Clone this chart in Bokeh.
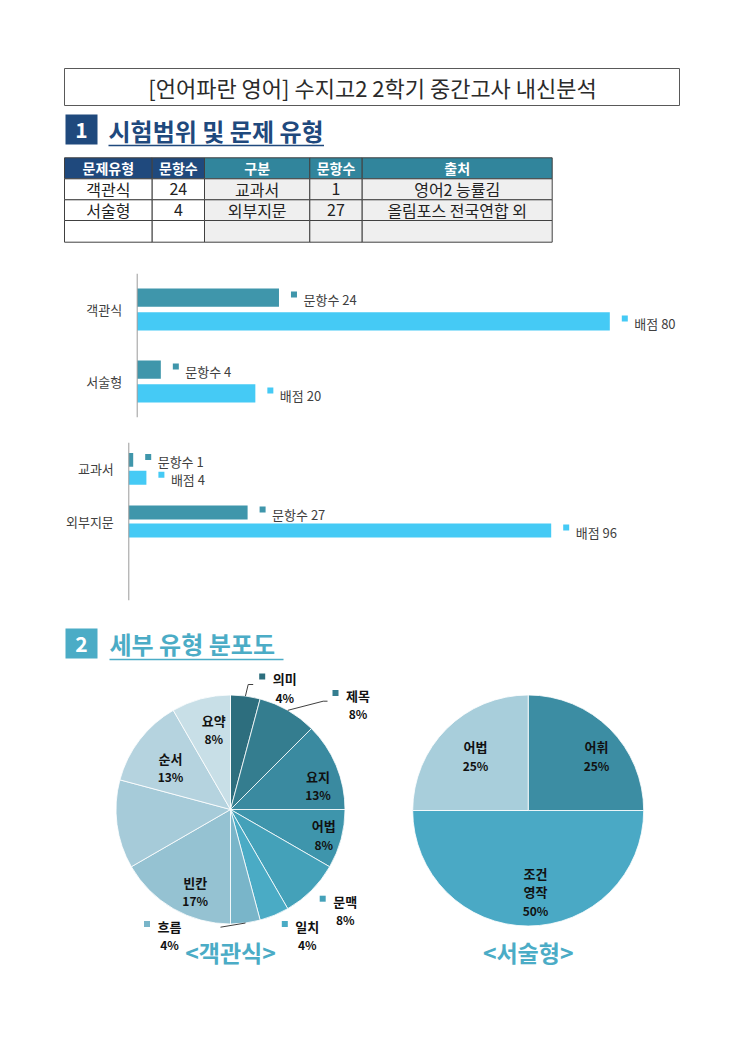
import math
from bokeh.plotting import figure
from bokeh.layouts import column
from bokeh.models import Range1d, FactorRange, ColumnDataSource, Span
from bokeh.transform import dodge
from bokeh.core.properties import value
from bokeh.embed import file_html
from bokeh.resources import INLINE

# ---------------- data ----------------
TITLE = "[언어파란 영어] 수지고2 2학기 중간고사 내신분석"
SEC1_NUM, SEC1 = "1", "시험범위 및 문제 유형"
SEC2_NUM, SEC2 = "2", "세부 유형 분포도"

TABLE_HEADER = ["문제유형", "문항수", "구분", "문항수", "출처"]
TABLE_ROW1 = ["객관식", "24", "교과서", "1", "영어2 능률김"]
TABLE_ROW2 = ["서술형", "4", "외부지문", "27", "올림포스 전국연합 외"]
TABLE_ROW3 = ["", "", "", "", ""]

SERIES = ["문항수", "배점"]

TYPE_CATS = ["객관식", "서술형"]
TYPE_COUNT = [24, 4]
TYPE_SCORE = [80, 20]

SRC_CATS = ["교과서", "외부지문", " "]   # third category is an empty slot on the axis
SRC_COUNT = [1, 27]
SRC_SCORE = [4, 96]

MC_TYPES = ["의미", "제목", "요지", "어법", "문맥", "일치", "흐름", "빈칸", "", "순서", "요약"]
MC_COUNTS = [1, 2, 3, 2, 2, 1, 1, 4, 3, 3, 2]

ESSAY_TYPES = ["어휘", "조건영작", "어법"]
ESSAY_COUNTS = [1, 2, 1]

CAPTIONS = ["<객관식>", "<서술형>"]

# ---------------- style ----------------
FONT = "Noto Sans CJK KR"
NAVY = "#1f497d"
TEAL_HDR = "#31859c"
SEC2_COLOR = "#4bacc6"
C_COUNT = "#3f96ab"
C_SCORE = "#45caf5"
MC_COLORS = ["#2d6e7e", "#347d8f", "#3a8aa0", "#3e95ac", "#44a1b9", "#4aabc5",
             "#79b5c9", "#95c2d2", "#a6cbd9", "#b5d3df", "#c8dfe7"]
ESSAY_COLORS = ["#3c8da3", "#4aa9c5", "#a8cedb"]

W = 743


def canvas(h, y_top):
    p = figure(width=W, height=h, x_range=Range1d(0, W), y_range=Range1d(y_top + h, y_top),
               output_backend="svg", toolbar_location=None,
               x_axis_location=None, y_axis_location=None, min_border=0)
    p.grid.visible = False
    p.outline_line_color = None
    return p


def txt(p, xs, ys, texts, size, color, bold=False, align="center", baseline="middle"):
    p.text(x=xs, y=ys, text=texts, text_font=value(FONT), text_font_size=f"{size}px",
           text_color=color, text_font_style="bold" if bold else "normal",
           text_align=align, text_baseline=baseline)


# ---------------- top: title, section 1, table ----------------
top = canvas(255, 0)
top.quad(left=[64], right=[679], top=[68], bottom=[105], fill_color=None,
         line_color="#595959", line_width=1)
txt(top, [372], [86.5], [TITLE], 22, "#2b2b2b")

top.quad(left=[65], right=[97], top=[114], bottom=[144], fill_color=NAVY, line_color=None)
txt(top, [81], [129.5], [SEC1_NUM], 21, "white", bold=True)
txt(top, [108], [130], [SEC1], 24, NAVY, bold=True, align="left")
top.segment(x0=[108], y0=[145], x1=[323.5], y1=[145], line_color=NAVY, line_width=1.5)

col_edges = [64, 151.7, 204, 309.3, 361.7, 551.7]
row_edges = [157.3, 178.3, 199.3, 220, 241.7]
rows = [TABLE_HEADER, TABLE_ROW1, TABLE_ROW2, TABLE_ROW3]
L, R, T, B, F = [], [], [], [], []
tx, ty, tt, hx, hy, ht = [], [], [], [], [], []
for ri, row in enumerate(rows):
    for ci, cell in enumerate(row):
        L.append(col_edges[ci]); R.append(col_edges[ci + 1])
        T.append(row_edges[ri]); B.append(row_edges[ri + 1])
        if ri == 0:
            F.append(NAVY if ci < 2 else TEAL_HDR)
        else:
            F.append("white" if ci < 2 else "#efefef")
        cx = (col_edges[ci] + col_edges[ci + 1]) / 2
        cy = (row_edges[ri] + row_edges[ri + 1]) / 2
        if cell:
            if ri == 0:
                hx.append(cx); hy.append(cy); ht.append(cell)
            else:
                tx.append(cx); ty.append(cy); tt.append(cell)
top.quad(left=L, right=R, top=T, bottom=B, fill_color=F, line_color="#404040", line_width=1)
txt(top, hx, hy, ht, 14, "white", bold=True)
txt(top, tx, ty, tt, 16, "#222222")


# ---------------- bar charts ----------------
def bar_chart(cats_axis, cats, counts, scores, height, b_top, b_bot, axis_x, ppu, off, bar_h):
    # frame spans the full page width; x = 0 sits at page x = axis_x
    p = figure(width=W, height=height, output_backend="svg", toolbar_location=None,
               y_range=FactorRange(factors=list(reversed(cats_axis)), range_padding=0),
               x_range=Range1d(-axis_x / ppu, (W - axis_x) / ppu),
               x_axis_location=None, y_axis_location=None,
               min_border_left=0, min_border_right=0,
               min_border_top=b_top, min_border_bottom=b_bot)
    p.grid.visible = False
    p.outline_line_color = None

    frame_h = height - b_top - b_bot
    cat_px = frame_h / len(cats_axis)
    sq_dx, tx_dx = 15 / ppu, 24.5 / ppu
    sq_dy = 3 / cat_px

    # category axis: line at x = 0 and category labels
    p.add_layout(Span(location=0, dimension="height", line_color="#9a9a9a", line_width=1))
    p.text(x=[0] * len(cats), y=cats, text=cats, x_offset=-15,
           text_font=value(FONT), text_font_size="13px", text_color="#404040",
           text_align="right", text_baseline="middle")

    for vals, sign, color, name in [(counts, 1, C_COUNT, SERIES[0]), (scores, -1, C_SCORE, SERIES[1])]:
        src = ColumnDataSource(dict(
            cat=cats, v=vals,
            sx=[v + sq_dx for v in vals], tx=[v + tx_dx for v in vals],
            lab=[f"{name} {v}" for v in vals]))
        p.hbar(y=dodge("cat", sign * off, range=p.y_range), left=0, right="v", height=bar_h,
               source=src, fill_color=color, line_color=None)
        p.scatter(x="sx", y=dodge("cat", sign * off + sq_dy, range=p.y_range), source=src,
                  marker="square", size=6, fill_color=color, line_color=None)
        p.text(x="tx", y=dodge("cat", sign * off, range=p.y_range), text="lab", source=src,
               text_font=value(FONT), text_font_size="13px", text_color="#404040",
               text_align="left", text_baseline="middle", y_offset=2)
    return p


# chart 1: page y 255..425, frame 273..417
bar1 = bar_chart(TYPE_CATS, TYPE_CATS, TYPE_COUNT, TYPE_SCORE, 170, 18, 8, 136.7, 5.9075,
                 0.165, 0.256)
# chart 2: page y 425..610, frame 442..600
bar2 = bar_chart(SRC_CATS, SRC_CATS[:2], SRC_COUNT, SRC_SCORE, 185, 17, 10, 128.3, 4.40,
                 0.17, 0.265)

# ---------------- section 2 + pies ----------------
pies = canvas(390, 610)
pies.quad(left=[65], right=[97], top=[628], bottom=[658], fill_color=SEC2_COLOR, line_color=None)
txt(pies, [81], [643], [SEC2_NUM], 21, "white", bold=True)
txt(pies, [109], [643.3], [SEC2], 24, SEC2_COLOR, bold=True, align="left")
pies.segment(x0=[109], y0=[659], x1=[283], y1=[659], line_color=SEC2_COLOR, line_width=1.5)


def angles(counts):
    total = sum(counts)
    cum, st, en, mid = 0, [], [], []
    for c in counts:
        a0 = math.pi / 2 - 2 * math.pi * cum / total
        cum += c
        a1 = math.pi / 2 - 2 * math.pi * cum / total
        st.append(a0); en.append(a1); mid.append((a0 + a1) / 2)
    return st, en, mid


def pct(counts):
    total = sum(counts)
    return [f"{int(c / total * 100 + 0.5)}%" for c in counts]


def draw_pie(p, cx, cy, r, names, counts, colors, label_pos, leaders, wrap=None):
    st, en, mid = angles(counts)
    p.wedge(x=cx, y=cy, radius=r, radius_units="screen", start_angle=st, end_angle=en,
            direction="clock", fill_color=colors, line_color="white", line_width=0.8)
    pcts = pct(counts)
    lx, ly, lt, px_, py_, pt = [], [], [], [], [], []
    sqx, sqy, sqc = [], [], []
    for i, name in enumerate(names):
        pos = label_pos[i]
        if pos is None or not name:
            continue
        dx, dy, kind = pos
        bx, by = cx + dx, cy + dy
        lines = wrap.get(name, [name]) if wrap else [name]
        n = len(lines) + 1
        for k, line in enumerate(lines):
            lx.append(bx); ly.append(by + (k - (n - 1) / 2) * 18.2); lt.append(line)
        px_.append(bx); py_.append(by + ((n - 1) - (n - 1) / 2) * 18.2); pt.append(pcts[i])
        if kind == "out":
            sqx.append(bx - 22.5); sqy.append(by - 9 - 2.5); sqc.append(colors[i])
    txt(p, lx, ly, lt, 13, "#111111", bold=True)
    txt(p, px_, py_, pt, 12, "#111111", bold=True)
    if sqx:
        p.scatter(x=sqx, y=sqy, marker="square", size=6, fill_color=sqc, line_color=None)
    for i, pts in leaders.items():
        ex = cx + r * math.cos(mid[i])
        ey = cy - r * math.sin(mid[i])
        xs = [ex] + [cx + a for a, b in pts]
        ys = [ey] + [cy + b for a, b in pts]
        p.line(xs, ys, line_color="#404040", line_width=1)


PIE1_LABELS = [(54.2, -121.5, "out"), (127.5, -105, "out"), (87.5, -24, "in"), (93.3, 25.5, "in"),
               (114.7, 100.7, "out"), (76.8, 126, "out"), (-61, 126, "out"), (-35.3, 82.2, "in"),
               None, (-60, -42.3, "in"), (-16.7, -79.8, "in")]
PIE1_LEADERS = {0: [(17.7, -125), (22.7, -125)], 1: [(92.7, -108.3), (97, -108.3)],
                6: [(-10, 117.7)]}
draw_pie(pies, 230, 809, 114.5, MC_TYPES, MC_COUNTS, MC_COLORS, PIE1_LABELS, PIE1_LEADERS)

PIE2_LABELS = [(68.3, -54.5, "in"), (7.3, 81.4, "in"), (-52.7, -54.5, "in")]
draw_pie(pies, 527.7, 810, 115.5, ESSAY_TYPES, ESSAY_COUNTS, ESSAY_COLORS, PIE2_LABELS, {},
         wrap={"조건영작": ["조건", "영작"]})

txt(pies, [230, 527.7], [951, 951.5], CAPTIONS, 23, SEC2_COLOR, bold=True)

layout = column(top, bar1, bar2, pies, spacing=0)
open("out.html", "w").write(file_html(layout, INLINE))
